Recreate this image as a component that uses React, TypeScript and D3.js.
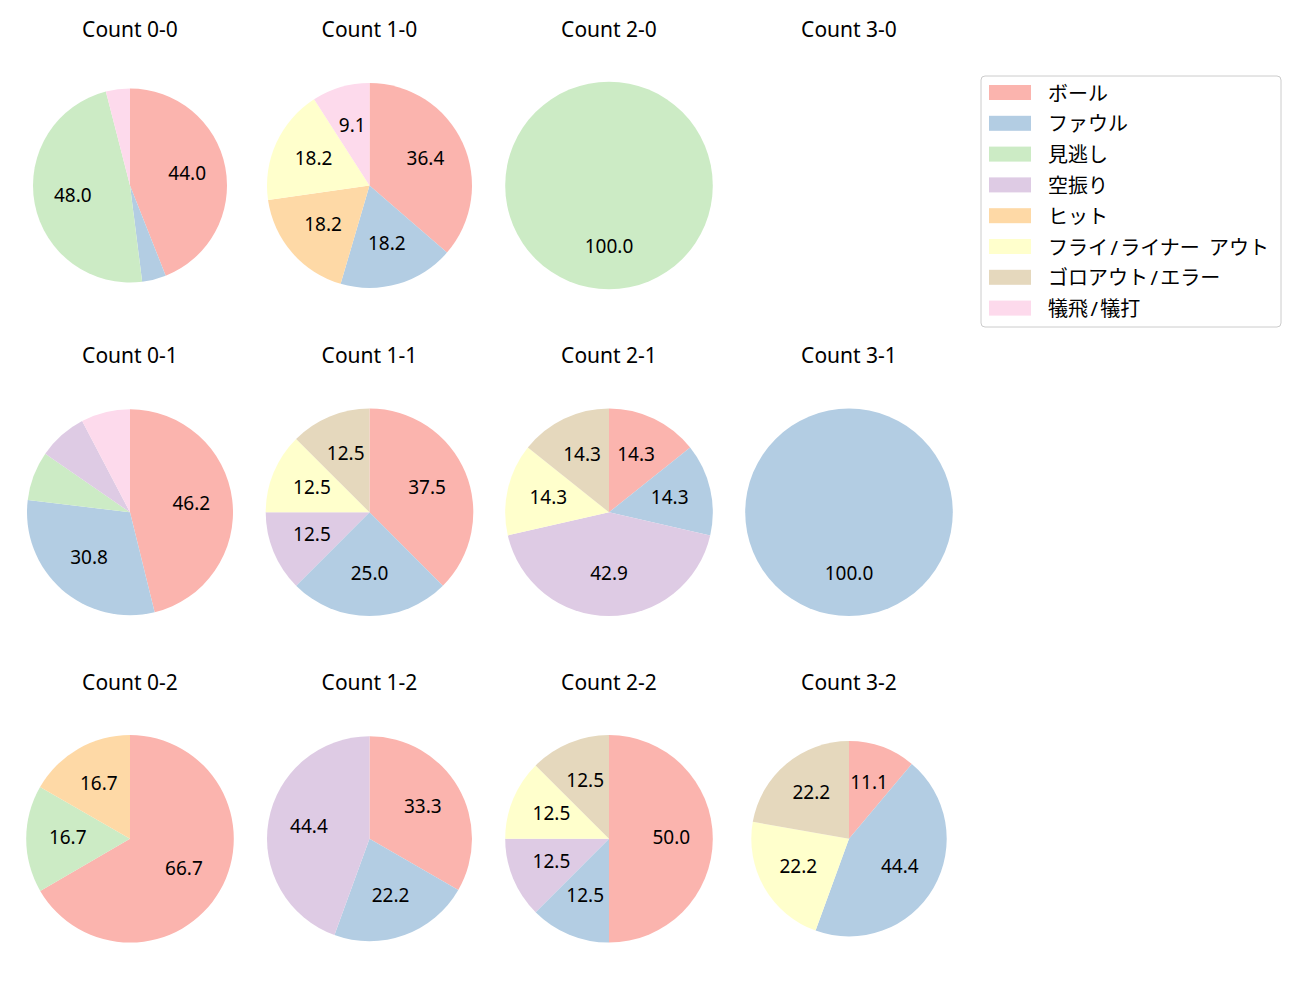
import React from 'react';
import * as d3 from 'd3';

const categories = [
  'ボール',
  'ファウル',
  '見逃し',
  '空振り',
  'ヒット',
  'フライ/ライナー アウト',
  'ゴロアウト/エラー',
  '犠飛/犠打',
];
const colors = ['#fbb4ae', '#b3cde3', '#ccebc5', '#decbe4', '#fed9a6', '#ffffcc', '#e5d8bd', '#fddaec'];

// balls-strikes counts, row by row (strikes 0..2), columns balls 0..3
const countLabels = ['0-0', '1-0', '2-0', '3-0', '0-1', '1-1', '2-1', '3-1', '0-2', '1-2', '2-2', '3-2'];

// percentages per category (order as in categories)
const share00 = [44.0, 4.0, 48.0, 0, 0, 0, 0, 4.0];
const share10 = [36.4, 18.2, 0, 0, 18.2, 18.2, 0, 9.1];
const share20 = [0, 0, 100.0, 0, 0, 0, 0, 0];
const share30: number[] = [];
const share01 = [46.2, 30.8, 7.7, 7.7, 0, 0, 0, 7.7];
const share11 = [37.5, 25.0, 0, 12.5, 0, 12.5, 12.5, 0];
const share21 = [14.3, 14.3, 0, 42.9, 0, 14.3, 14.3, 0];
const share31 = [0, 100.0, 0, 0, 0, 0, 0, 0];
const share02 = [66.7, 0, 16.7, 0, 16.7, 0, 0, 0];
const share12 = [33.3, 22.2, 0, 44.4, 0, 0, 0, 0];
const share22 = [50.0, 12.5, 0, 12.5, 0, 12.5, 12.5, 0];
const share32 = [11.1, 44.4, 0, 0, 0, 22.2, 22.2, 0];

const shares = [share00, share10, share20, share30, share01, share11, share21, share31, share02, share12, share22, share32];

// layout
const W = 1300;
const H = 1000;
const colX = [130, 369.5, 609, 849];
const rowY = [185.5, 512.3, 838.8];
const titleY = [36.7, 363.2, 689.7];
const radii = [97, 102.5, 103.8, 103.8, 103, 103.8, 103.8, 103.8, 103.8, 102.5, 103.8, 97.7];
const FONT = '"Noto Sans", "Noto Sans CJK JP", sans-serif';
const LABEL_FS = 19;
const TITLE_FS = 21;

type Item = { value: number; idx: number };

function Pie({ i }: { i: number }) {
  const col = i % 4;
  const row = Math.floor(i / 4);
  const cx = colX[col];
  const cy = rowY[row];
  const r = radii[i];
  const items: Item[] = shares[i].map((v, idx) => ({ value: v, idx })).filter((d) => d.value > 0);
  const total = d3.sum(items, (d) => d.value);
  const pie = d3
    .pie<Item>()
    .sort(null)
    .value((d) => d.value)
    .startAngle(0)
    .endAngle(2 * Math.PI);
  const arcs = pie(items);
  const arc = d3.arc<d3.PieArcDatum<Item>>().innerRadius(0).outerRadius(r);
  const labelArc = d3.arc<d3.PieArcDatum<Item>>().innerRadius(r * 0.6).outerRadius(r * 0.6);
  return (
    <g>
      <text x={cx} y={titleY[row]} textAnchor="middle" fontSize={TITLE_FS} fontFamily={FONT} fill="#000">
        {`Count ${countLabels[i]}`}
      </text>
      <g transform={`translate(${cx},${cy})`}>
        {arcs.map((a) => (
          <path key={a.data.idx} d={arc(a) || ''} fill={colors[a.data.idx]} />
        ))}
        {arcs.map((a) => {
          const pct = (a.data.value / total) * 100;
          if (pct < 8) return null;
          const [lx, ly] = labelArc.centroid(a);
          return (
            <text
              key={'t' + a.data.idx}
              x={lx}
              y={ly - 1.5 + 0.357 * LABEL_FS}
              textAnchor="middle"
              fontSize={LABEL_FS}
              fontFamily={FONT}
              fill="#000"
            >
              {a.data.value.toFixed(1)}
            </text>
          );
        })}
      </g>
    </g>
  );
}

function LegendLabel({ text, x, y }: { text: string; x: number; y: number }) {
  const chars = Array.from(text);
  return (
    <text x={x} y={y} dominantBaseline="central" fontSize={20} fontFamily={FONT} fill="#000">
      {chars.map((ch, k) => {
        const prev = k > 0 ? chars[k - 1] : '';
        let dx = 0;
        if (ch === '/') dx = 2.4;
        if (prev === '/') dx = 2.4;
        if (prev === ' ') dx = 4;
        return (
          <tspan key={k} dx={dx}>
            {ch}
          </tspan>
        );
      })}
    </text>
  );
}

function Legend() {
  const x0 = 981;
  const y0 = 76;
  const rowH = 30.8;
  return (
    <g>
      <rect x={x0} y={y0} width={300} height={251} rx={4} ry={4} fill="#fff" fillOpacity={0.8} stroke="#cccccc" strokeWidth={1} />
      {categories.map((c, k) => {
        const yc = 92.5 + k * rowH;
        return (
          <g key={c}>
            <rect x={989} y={yc - 7.5} width={42} height={15} fill={colors[k]} />
            <LegendLabel text={c} x={1048} y={yc} />
          </g>
        );
      })}
    </g>
  );
}

export default function App() {
  return (
    <div style={{ position: 'absolute', left: 0, top: 0, width: W, height: H, background: '#fff' }}>
      <svg width={W} height={H} viewBox={`0 0 ${W} ${H}`}>
        <rect width={W} height={H} fill="#fff" />
        {countLabels.map((_, i) => (
          <Pie key={i} i={i} />
        ))}
        <Legend />
      </svg>
    </div>
  );
}
